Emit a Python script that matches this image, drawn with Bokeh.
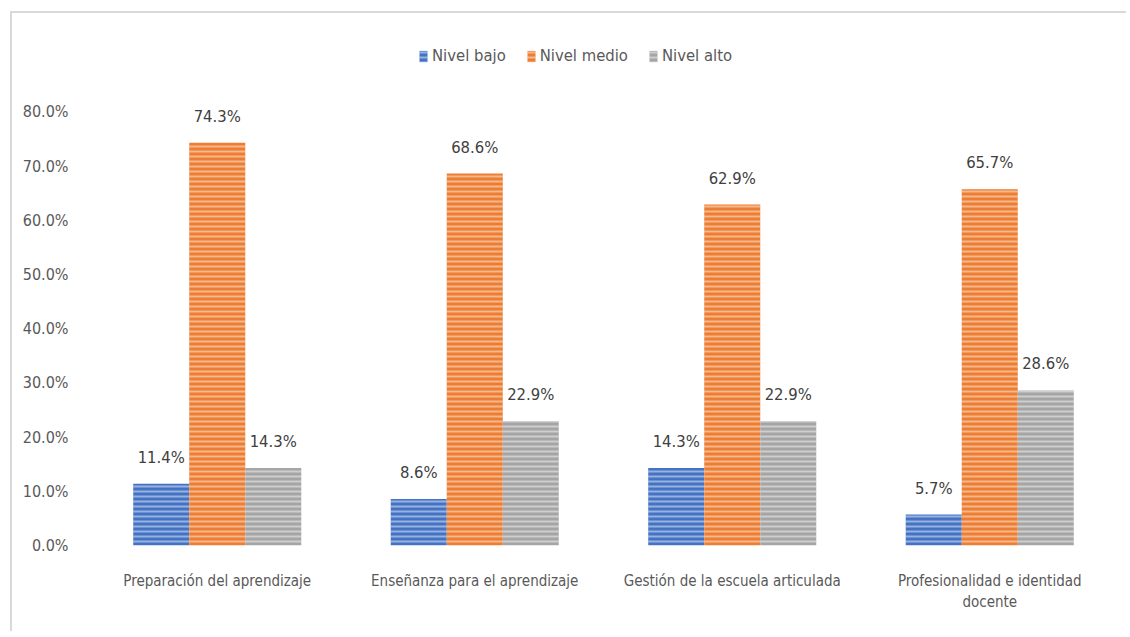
from bokeh.plotting import figure
from bokeh.models import ColumnDataSource, FactorRange, LabelSet, Legend, LegendItem, FixedTicker, NumeralTickFormatter
from bokeh.core.properties import value
from bokeh.transform import dodge
from bokeh.embed import file_html
from bokeh.resources import INLINE

categories = ["Preparación del aprendizaje", "Enseñanza para el aprendizaje",
              "Gestión de la escuela articulada", "Profesionalidad e identidad\ndocente"]
series = ["Nivel bajo", "Nivel medio", "Nivel alto"]
nivel_bajo = [0.114, 0.086, 0.143, 0.057]
nivel_medio = [0.743, 0.686, 0.629, 0.657]
nivel_alto = [0.143, 0.229, 0.229, 0.286]
colors = ["#4472C4", "#ED7D31", "#A5A5A5"]
y_ticks = [0.0, 0.1, 0.2, 0.3, 0.4, 0.5, 0.6, 0.7, 0.8]

FONT = "DejaVu Sans Condensed"

src = ColumnDataSource(dict(cat=categories, bajo=nivel_bajo, medio=nivel_medio, alto=nivel_alto,
                            bajo_t=[f"{v*100:.1f}%" for v in nivel_bajo],
                            medio_t=[f"{v*100:.1f}%" for v in nivel_medio],
                            alto_t=[f"{v*100:.1f}%" for v in nivel_alto]))

p = figure(x_range=FactorRange(*categories, range_padding=0), y_range=(0, 0.95),
           width=1116, height=620, output_backend="svg", toolbar_location=None,
           min_border_left=76, min_border_right=10, min_border_top=17, min_border_bottom=88)
p.outline_line_color = None
p.xgrid.grid_line_color = None
p.ygrid.grid_line_color = None
p.margin = (11, 0, 0, 10)
p.styles = {"border-left": "2px solid #D9D9D9", "border-top": "2px solid #D9D9D9"}

w = 0.2175
offs = [-w, 0.0, w]
keys = ["bajo", "medio", "alto"]
renderers = []
for k, off, c in zip(keys, offs, colors):
    r = p.vbar(x=dodge("cat", off, range=p.x_range), top=k, width=w, source=src,
               fill_color=c, line_color=None, hatch_pattern="horizontal_line",
               hatch_color="white", hatch_alpha=0.45, hatch_scale=5, hatch_weight=2)
    renderers.append(r)
    lbl = LabelSet(x=dodge("cat", off, range=p.x_range), y=k, text=k + "_t", source=src,
                   text_align="center", text_baseline="bottom", y_offset=17,
                   text_font=value(FONT), text_font_size="16.5px", text_color="#404040")
    p.add_layout(lbl)

legend = Legend(items=[LegendItem(label=s, renderers=[r]) for s, r in zip(series, renderers)],
                location=(330, 480), orientation="horizontal", border_line_color=None,
                background_fill_alpha=0, label_text_font=FONT, label_text_font_size="16.5px",
                label_text_color="#595959", glyph_width=10, glyph_height=14, spacing=20,
                label_standoff=4, margin=0, padding=0)
p.add_layout(legend)

p.yaxis.ticker = FixedTicker(ticks=y_ticks)
p.yaxis.formatter = NumeralTickFormatter(format="0.0%")
for ax in (p.xaxis[0], p.yaxis[0]):
    ax.axis_line_color = None
    ax.major_tick_line_color = None
    ax.minor_tick_line_color = None
    ax.major_label_text_font = FONT
    ax.major_label_text_color = "#595959"
p.yaxis.major_label_text_font_size = "16px"
p.xaxis.major_label_text_font_size = "15px"
p.yaxis.major_label_standoff = 14
p.xaxis.major_label_standoff = 20

open("out.html", "w").write(file_html(p, INLINE))
